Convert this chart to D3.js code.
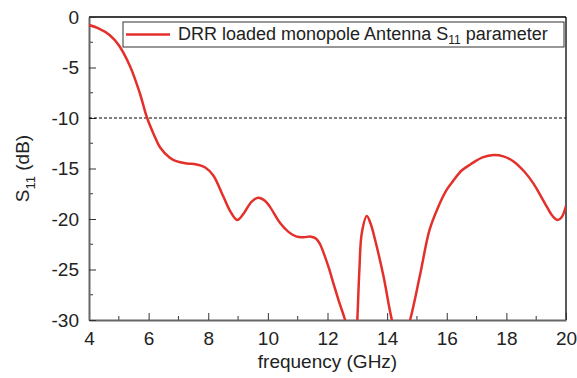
<!DOCTYPE html>
<html>
<head>
<meta charset="utf-8">
<script src="https://cdn.jsdelivr.net/npm/d3@7"></script>
<style>
  body { margin: 0; background: #fff; }
  text { font-family: Arial, "Liberation Sans", sans-serif; fill: #222; }
</style>
</head>
<body>
<div id="chart"></div>
<script>
// S11 curve of the DRR loaded monopole
const freq = [4, 4.3, 4.7, 5, 5.38, 5.7, 5.95, 6.2, 6.38, 6.7, 6.95, 7.3, 7.6, 7.9, 8.17, 8.51, 8.75, 8.97, 9.2, 9.45, 9.68, 9.9, 10.07, 10.41, 10.7, 10.97, 11.2, 11.45, 11.62, 11.75, 11.9, 12.05, 12.2, 12.4, 12.59, 12.8, 12.95, 13.0, 13.07, 13.15, 13.32, 13.45, 13.6, 13.88, 14.16, 14.45, 14.77, 15.1, 15.42, 15.7, 16.0, 16.22, 16.5, 16.79, 17.2, 17.57, 17.9, 18.24, 18.6, 18.91, 19.15, 19.36, 19.55, 19.72, 19.86, 20]
const s11 = [-0.8, -1.1, -1.8, -2.8, -4.9, -7.5, -10, -11.8, -12.9, -13.9, -14.3, -14.5, -14.6, -14.9, -15.7, -17.8, -19.3, -20.1, -19.4, -18.3, -17.9, -18.2, -18.8, -20.4, -21.3, -21.75, -21.8, -21.75, -21.95, -22.5, -23.6, -24.9, -26.4, -28.3, -30, -32.5, -32.5, -30, -25, -21.4, -19.7, -20.5, -22.1, -25.7, -30, -33, -30, -25.6, -21.1, -18.9, -17.1, -16.2, -15.2, -14.6, -13.9, -13.66, -13.8, -14.3, -15.3, -16.5, -17.7, -18.8, -19.7, -20.1, -19.8, -18.7]
const xTicks = [4, 6, 8, 10, 12, 14, 16, 18, 20]
const yTicks = [0, -5, -10, -15, -20, -25, -30]
const threshold = -10

const width = 577, height = 378
const margin = {top: 17, right: 11, bottom: 58, left: 89}
const innerW = width - margin.left - margin.right
const innerH = height - margin.top - margin.bottom

const svg = d3.select("#chart").append("svg")
    .attr("width", width)
    .attr("height", height)

const g = svg.append("g")
    .attr("transform", `translate(${margin.left},${margin.top})`)

const x = d3.scaleLinear().domain([4, 20]).range([0, innerW])
const y = d3.scaleLinear().domain([-30, 0]).range([innerH, 0])

g.append("clipPath").attr("id", "clip")
    .append("rect").attr("width", innerW).attr("height", innerH)

// frame: top and right in black
g.append("line").attr("x1", 0).attr("x2", innerW).attr("y1", 0).attr("y2", 0)
    .attr("stroke", "#000").attr("stroke-width", 1.3)
g.append("line").attr("x1", innerW).attr("x2", innerW).attr("y1", 0).attr("y2", innerH)
    .attr("stroke", "#000").attr("stroke-width", 1.3)

// minor ticks
const xMinor = d3.range(5, 20, 2)
const yMinor = d3.range(-27.5, 0, 5)
g.selectAll(".xminor").data(xMinor).join("line")
    .attr("x1", d => x(d)).attr("x2", d => x(d))
    .attr("y1", innerH).attr("y2", innerH - 4)
    .attr("stroke", "#333").attr("stroke-width", 1)
g.selectAll(".yminor").data(yMinor).join("line")
    .attr("x1", 0).attr("x2", 4)
    .attr("y1", d => y(d)).attr("y2", d => y(d))
    .attr("stroke", "#333").attr("stroke-width", 1)

const fmt = d => String(d)
const xAxis = g.append("g")
    .attr("transform", `translate(0,${innerH})`)
    .call(d3.axisBottom(x).tickValues(xTicks).tickFormat(fmt).tickSizeInner(-7).tickSizeOuter(0).tickPadding(12))
const yAxis = g.append("g")
    .call(d3.axisLeft(y).tickValues(yTicks).tickFormat(fmt).tickSizeInner(-7).tickSizeOuter(0).tickPadding(10))

xAxis.select(".domain").attr("stroke", "#666").attr("stroke-width", 2)
yAxis.select(".domain").attr("stroke", "#666").attr("stroke-width", 2)
xAxis.selectAll(".tick line").attr("stroke", "#333")
yAxis.selectAll(".tick line").attr("stroke", "#333")
xAxis.selectAll("text").style("font-size", "19px").attr("fill", "#222")
yAxis.selectAll("text").style("font-size", "19px").attr("fill", "#222")

// -10 dB reference line
g.append("line")
    .attr("x1", 0).attr("x2", innerW)
    .attr("y1", y(threshold)).attr("y2", y(threshold))
    .attr("stroke", "#000").attr("stroke-width", 1)
    .attr("stroke-dasharray", "3,2")

const points = freq.map((f, i) => [f, s11[i]])
const line = d3.line()
    .x(d => x(d[0]))
    .y(d => y(d[1]))
    .curve(d3.curveCatmullRom.alpha(0.5))

g.append("path")
    .datum(points)
    .attr("clip-path", "url(#clip)")
    .attr("fill", "none")
    .attr("stroke", "#e4302a")
    .attr("stroke-width", 2.5)
    .attr("d", line)

// axis titles
svg.append("text")
    .attr("x", margin.left + innerW / 2)
    .attr("y", 368)
    .attr("text-anchor", "middle")
    .style("font-size", "19px")
    .text("frequency (GHz)")

const yTitle = svg.append("text")
    .attr("transform", `translate(29,${margin.top + innerH / 2}) rotate(-90)`)
    .attr("text-anchor", "middle")
    .style("font-size", "19px")
yTitle.append("tspan").text("S")
yTitle.append("tspan").attr("dy", 6).style("font-size", "13px").text("11")
yTitle.append("tspan").attr("dy", -6).text(" (dB)")

// legend
const legend = svg.append("g").attr("transform", "translate(123,22)")
legend.append("rect")
    .attr("width", 441).attr("height", 25)
    .attr("fill", "#fff").attr("stroke", "#333").attr("stroke-width", 1)
legend.append("line")
    .attr("x1", 3).attr("x2", 47).attr("y1", 12.5).attr("y2", 12.5)
    .attr("stroke", "#e4302a").attr("stroke-width", 2.5)
const legText = legend.append("text")
    .attr("x", 55).attr("y", 18)
    .style("font-size", "18px")
legText.append("tspan").text("DRR loaded monopole Antenna S")
legText.append("tspan").attr("dy", 4).style("font-size", "12px").text("11")
legText.append("tspan").attr("dy", -4).text(" parameter")
</script>
</body>
</html>
